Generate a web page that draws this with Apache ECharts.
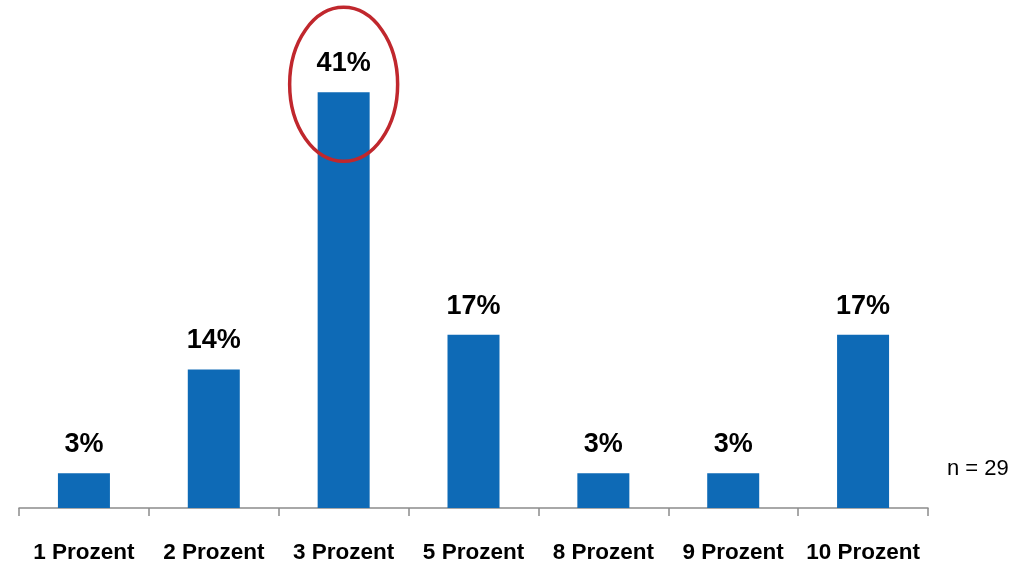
<!DOCTYPE html>
<html>
<head>
<meta charset="utf-8">
<script src="https://cdn.jsdelivr.net/npm/echarts@6/dist/echarts.min.js"></script>
<style>
  html, body { margin: 0; padding: 0; background: #fff; }
  #chart { width: 1025px; height: 564px; }
</style>
</head>
<body>
<div id="chart"></div>
<script>
// Share of respondents per answer (n = 29)
const categories = ['1 Prozent', '2 Prozent', '3 Prozent', '5 Prozent', '8 Prozent', '9 Prozent', '10 Prozent'];
const shares = [3.45, 13.79, 41.38, 17.24, 3.45, 3.45, 17.24];
const sampleNote = 'n = 29';
const highlightIndex = 2;

const FONT = '"Liberation Sans", Arial, sans-serif';

const chart = echarts.init(document.getElementById('chart'), null, { renderer: 'canvas' });

const option = {
  animation: false,
  backgroundColor: '#ffffff',
  grid: { left: 19, right: 97, top: 56, bottom: 50, containLabel: false },
  xAxis: {
    type: 'category',
    data: categories,
    axisLine: { show: true, lineStyle: { color: '#8c8c8c', width: 1.5 } },
    axisTick: { show: true, interval: 0, length: 8, lineStyle: { color: '#8c8c8c', width: 1.5 } },
    axisLabel: {
      interval: 0,
      margin: 33,
      color: '#000',
      fontFamily: FONT,
      fontWeight: 'bold',
      fontSize: 22.5
    }
  },
  yAxis: {
    type: 'value',
    min: 0,
    max: 45,
    show: false,
    splitLine: { show: false }
  },
  series: [{
    type: 'bar',
    data: shares,
    barWidth: 52,
    itemStyle: { color: '#0e6ab6' },
    label: {
      show: true,
      position: 'top',
      distance: 15,
      color: '#000',
      fontFamily: FONT,
      fontWeight: 'bold',
      fontSize: 27,
      formatter: p => Math.round(p.value) + '%'
    }
  }]
};

chart.setOption(option);

// Red ellipse around the top of the highlighted bar, and the sample-size note
const peakPx = chart.convertToPixel({ seriesIndex: 0 }, [highlightIndex, shares[highlightIndex]]);
const basePx = chart.convertToPixel({ seriesIndex: 0 }, [0, 0]);
chart.setOption({
  graphic: [
    {
      type: 'ellipse',
      shape: { cx: peakPx[0], cy: peakPx[1] - 8, rx: 54, ry: 77 },
      style: { fill: 'none', stroke: '#c0272d', lineWidth: 3.5 },
      z: 100
    },
    {
      type: 'text',
      left: 947,
      top: basePx[1] - 50,
      style: {
        text: sampleNote,
        fill: '#000',
        font: '22px ' + FONT
      }
    }
  ]
});
</script>
</body>
</html>
